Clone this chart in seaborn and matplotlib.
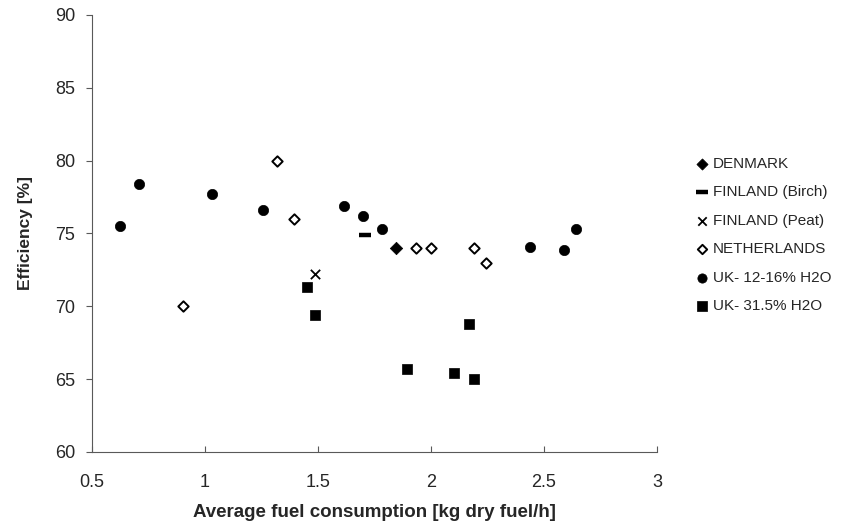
import numpy as np
import pandas as pd
import matplotlib
matplotlib.use("Agg")
import matplotlib.pyplot as plt
import seaborn as sns

sns.set_style("white")
plt.rcParams['font.family'] = ['Liberation Sans', 'DejaVu Sans']

# ---- data ----
denmark_x = [1.845]
denmark_y = [74.0]
birch_x = [1.708]
birch_y = [74.9]
peat_x = [1.488]
peat_y = [72.2]
neth_x = [0.904, 1.32, 1.395, 1.934, 2.0, 2.189, 2.245]
neth_y = [70.0, 80.0, 76.0, 74.0, 74.0, 74.0, 73.0]
uk_low_x = [0.624, 0.709, 1.032, 1.258, 1.617, 1.698, 1.785, 2.438, 2.587, 2.643]
uk_low_y = [75.5, 78.4, 77.7, 76.6, 76.9, 76.2, 75.3, 74.1, 73.9, 75.3]
uk_high_x = [1.452, 1.488, 1.892, 2.102, 2.168, 2.189]
uk_high_y = [71.3, 69.4, 65.7, 65.4, 68.8, 65.0]

labels = ["DENMARK", "FINLAND (Birch)", "FINLAND (Peat)", "NETHERLANDS",
          "UK- 12-16% H2O", "UK- 31.5% H2O"]
x_ticks = [0.5, 1, 1.5, 2, 2.5, 3]
x_tick_labels = ["0.5", "1", "1.5", "2", "2.5", "3"]
y_ticks = [60, 65, 70, 75, 80, 85, 90]

fig = plt.figure(figsize=(8.41, 5.31), dpi=100)
ax = fig.add_axes([0.1094, 0.1488, 0.6718, 0.8230])

def df(x, y):
    return pd.DataFrame({"x": x, "y": y})

sns.scatterplot(data=df(denmark_x, denmark_y), x="x", y="y", ax=ax, marker="D",
                s=40, color="black", edgecolor="black", linewidth=0.5, label=labels[0])
sns.scatterplot(data=df(birch_x, birch_y), x="x", y="y", ax=ax, marker="_",
                s=80, color="black", linewidth=3.2, label=labels[1])
sns.scatterplot(data=df(peat_x, peat_y), x="x", y="y", ax=ax, marker="x",
                s=45, color="black", linewidth=1.3, label=labels[2])
sns.scatterplot(data=df(neth_x, neth_y), x="x", y="y", ax=ax, marker="D",
                s=28, facecolor="white", edgecolor="black", linewidth=1.4, label=labels[3])
sns.scatterplot(data=df(uk_low_x, uk_low_y), x="x", y="y", ax=ax, marker="o",
                s=55, color="black", edgecolor="black", linewidth=0.5, label=labels[4])
sns.scatterplot(data=df(uk_high_x, uk_high_y), x="x", y="y", ax=ax, marker="s",
                s=55, color="black", edgecolor="black", linewidth=0.5, label=labels[5])

ax.set_xlim(0.5, 3)
ax.set_ylim(60, 90)
ax.set_xticks(x_ticks)
ax.set_xticklabels(x_tick_labels)
ax.set_yticks(y_ticks)

for s in ["top", "right"]:
    ax.spines[s].set_visible(False)
for s in ["left", "bottom"]:
    ax.spines[s].set_color("0.35")
    ax.spines[s].set_linewidth(0.8)

ax.tick_params(axis="x", direction="in", length=4, width=0.8, color="0.35",
               labelsize=13, pad=16, bottom=True)
ax.tick_params(axis="y", direction="out", length=4, width=0.8, color="0.35",
               labelsize=13, pad=8, left=True)

ax.set_xlabel("Average fuel consumption [kg dry fuel/h]", fontsize=13.5,
              fontweight="bold", labelpad=9)
ax.set_ylabel("Efficiency [%]", fontsize=12.5, fontweight="bold", labelpad=16)

ax.legend(loc="upper left", bbox_to_anchor=(0.826, 0.705),
          bbox_transform=fig.transFigure, frameon=False, fontsize=11,
          handlelength=1.0, handletextpad=0.2, labelspacing=0.95,
          borderpad=0, borderaxespad=0, markerscale=0.9)

fig.savefig("out.png", dpi=100)
